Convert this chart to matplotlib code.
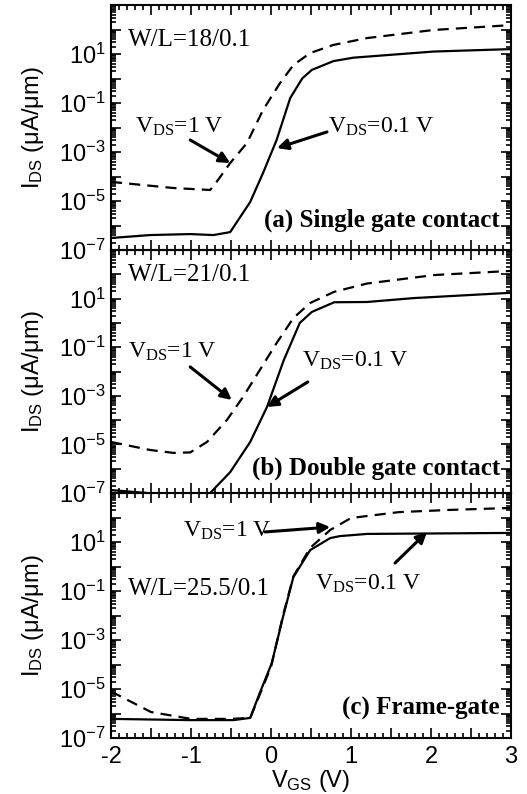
import numpy as np
import matplotlib
matplotlib.use('Agg')
import matplotlib.pyplot as plt
from matplotlib.ticker import MultipleLocator, FixedLocator, FuncFormatter, LogLocator, NullFormatter

# === DADOS (log10 de I_DS em uA/um) ===
vgs_a_1v = [-2.0, -1.22, -0.76, -0.68, -0.51, -0.30, -0.10, 0.11, 0.28, 0.49, 0.78, 1.20, 2.03, 3.0]
log_a_1v = [-4.22, -4.47, -4.55, -4.22, -3.45, -2.63, -1.29, -0.20, 0.55, 1.04, 1.37, 1.65, 1.98, 2.18]
vgs_a_01v = [-2.0, -1.51, -1.01, -0.72, -0.51, -0.26, -0.10, 0.07, 0.24, 0.39, 0.51, 0.78, 1.03, 2.03, 3.0]
log_a_01v = [-6.51, -6.39, -6.35, -6.39, -6.27, -5.04, -3.86, -2.51, -0.80, 0.0, 0.35, 0.71, 0.85, 1.10, 1.20]

vgs_b_1v = [-2.0, -1.51, -1.22, -1.01, -0.80, -0.55, -0.35, -0.14, 0.07, 0.28, 0.49, 0.79, 1.20, 2.04, 3.0]
log_b_1v = [-4.90, -5.23, -5.35, -5.33, -4.90, -3.99, -3.05, -1.94, -0.83, 0.20, 0.82, 1.28, 1.62, 1.97, 2.14]
vgs_b_01v = [-2.0, -1.55, -1.2, -0.9, -0.76, -0.51, -0.26, -0.05, 0.16, 0.36, 0.51, 0.79, 1.20, 1.78, 3.0]
log_b_01v = [-6.88, -7.0, -7.4, -7.4, -7.0, -6.14, -4.90, -3.46, -1.53, 0.0, 0.45, 0.85, 0.86, 1.02, 1.24]

vgs_c_1v = [-2.0, -1.5, -1.0, -0.5, -0.26, -0.15, 0.0, 0.15, 0.28, 0.49, 0.74, 1.0, 1.6, 2.24, 3.0]
log_c_1v = [-5.10, -5.94, -6.22, -6.22, -6.18, -5.30, -4.10, -2.00, -0.40, 0.76, 1.49, 1.98, 2.22, 2.31, 2.39]
vgs_c_01v = [-2.0, -1.01, -0.47, -0.26, -0.14, 0.01, 0.15, 0.28, 0.49, 0.74, 0.86, 1.20, 3.0]
log_c_01v = [-6.22, -6.27, -6.27, -6.18, -5.16, -3.94, -2.06, -0.43, 0.67, 1.16, 1.24, 1.33, 1.37]

wl_txt = ['W/L=18/0.1', 'W/L=21/0.1', 'W/L=25.5/0.1']
painel_txt = ['(a) Single gate contact', '(b) Double gate contact', '(c) Frame-gate']

# === ESTILO ===
plt.rcParams['font.family'] = ['Liberation Sans', 'DejaVu Sans']
plt.rcParams['mathtext.default'] = 'regular'
SERIF = ['Liberation Serif', 'DejaVu Serif']

fig = plt.figure(figsize=(5.27, 7.94), dpi=100)
L, W = 111 / 527, 400 / 527
posicoes = [(5, 250), (250, 493), (493, 738)]  # topo/base em pixels
eixos = []
for topo, base in posicoes:
    ax = fig.add_axes([L, 1 - base / 794, W, (base - topo) / 794])
    ax.patch.set_alpha(0)
    eixos.append(ax)

def fmt_y(v, pos):
    e = int(round(np.log10(v)))
    return r'10$^{%d}$' % e if (e % 2 and e < 3) else ''

def fmt_x(v, pos):
    return '%d' % round(v) if abs(v - round(v)) < 1e-6 else ''

series = [
    (vgs_a_1v, log_a_1v, vgs_a_01v, log_a_01v),
    (vgs_b_1v, log_b_1v, vgs_b_01v, log_b_01v),
    (vgs_c_1v, log_c_1v, vgs_c_01v, log_c_01v),
]

for i, ax in enumerate(eixos):
    x1, y1, x2, y2 = series[i]
    ax.plot(x1, 10 ** np.array(y1), color='k', lw=1.6, dashes=(5, 3.2))
    ax.plot(x2, 10 ** np.array(y2), color='k', lw=1.6)
    ax.set_yscale('log')
    ax.set_ylim(1e-7, 1e3)
    ax.set_xlim(-2, 3)
    ax.yaxis.set_major_locator(FixedLocator([10.0 ** k for k in range(-7, 4)]))
    ax.yaxis.set_major_formatter(FuncFormatter(fmt_y))
    ax.yaxis.set_minor_locator(LogLocator(base=10, subs=np.arange(2, 10), numticks=20))
    ax.yaxis.set_minor_formatter(NullFormatter())
    ax.xaxis.set_major_locator(MultipleLocator(0.5))
    ax.xaxis.set_minor_locator(MultipleLocator(0.1))
    ax.xaxis.set_major_formatter(FuncFormatter(fmt_x))
    ax.tick_params(which='both', direction='in', top=True, right=True, width=1.2)
    ax.tick_params(which='major', length=7, labelsize=17)
    ax.tick_params(which='minor', length=3.5)
    ax.tick_params(axis='y', which='major', pad=4)
    for s in ax.spines.values():
        s.set_linewidth(1.5)
    if i < 2:
        ax.tick_params(axis='x', labelbottom=False)
    ax.set_ylabel(r'I$_{DS}$ ($\mu$A/$\mu$m)', fontsize=17, labelpad=9)
    ax.text(-1.79, 10 ** [1.33, 1.72, -1.16][i], wl_txt[i], family=SERIF, fontsize=18, va='baseline')
    ax.text(2.86, 10 ** [-6.06, -6.26, -6.06][i], painel_txt[i], family=SERIF, fontsize=18,
            fontweight='bold', ha='right', va='baseline')

eixos[2].set_xlabel(r'V$_{GS}$ (V)', fontsize=17, labelpad=0)
eixos[2].tick_params(axis='x', pad=6)

seta = dict(arrowstyle='-|>', lw=2.2, color='k', mutation_scale=16, shrinkA=0, shrinkB=0)
rot_1v = r'V$_{DS}$=1 V'
rot_01v = r'V$_{DS}$=0.1 V'

# (a)
ax = eixos[0]
ax.text(-1.7, 10 ** -2.22, rot_1v, family=SERIF, fontsize=17, va='baseline')
ax.annotate('', xy=(-0.51, 10 ** -3.45), xytext=(-1.01, 10 ** -2.51), arrowprops=seta)
ax.text(0.71, 10 ** -2.22, rot_01v, family=SERIF, fontsize=17, va='baseline')
ax.annotate('', xy=(0.075, 10 ** -2.84), xytext=(0.70, 10 ** -2.18), arrowprops=seta)
# (b)
ax = eixos[1]
ax.text(-1.79, 10 ** -1.44, rot_1v, family=SERIF, fontsize=17, va='baseline')
ax.annotate('', xy=(-0.49, 10 ** -3.17), xytext=(-1.01, 10 ** -1.81), arrowprops=seta)
ax.text(0.39, 10 ** -1.81, rot_01v, family=SERIF, fontsize=17, va='baseline')
ax.annotate('', xy=(-0.05, 10 ** -3.46), xytext=(0.46, 10 ** -2.43), arrowprops=seta)
# (c)
ax = eixos[2]
ax.text(-1.1, 10 ** 1.2, rot_1v, family=SERIF, fontsize=17, va='baseline')
ax.annotate('', xy=(0.74, 10 ** 1.61), xytext=(-0.075, 10 ** 1.41), arrowprops=seta)
ax.text(0.55, 10 ** -0.96, rot_01v, family=SERIF, fontsize=17, va='baseline')
ax.annotate('', xy=(1.95, 10 ** 1.41), xytext=(1.55, 10 ** 0.14), arrowprops=seta)

fig.savefig('out.png', dpi=100)
